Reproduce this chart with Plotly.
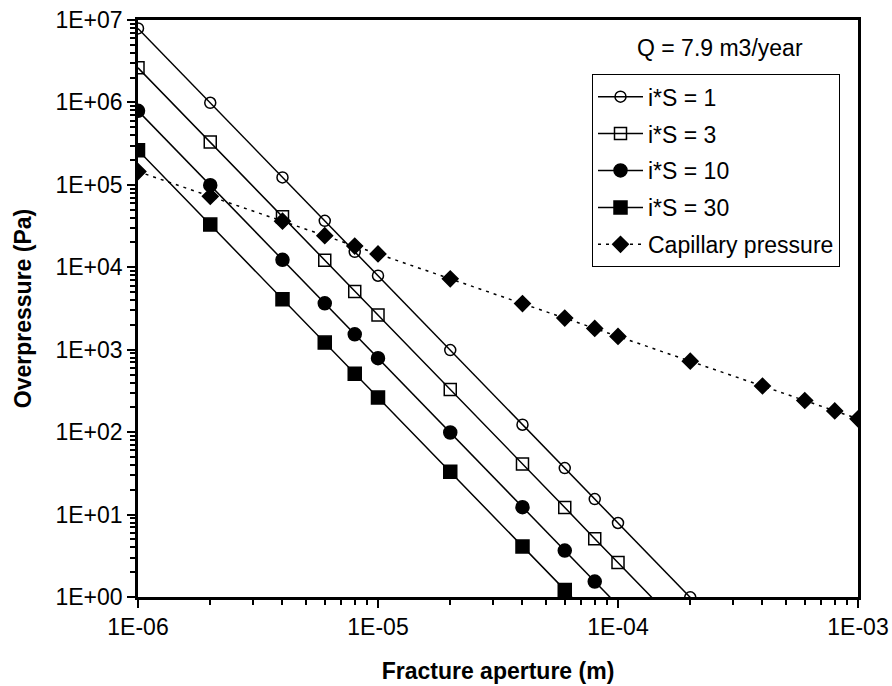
import plotly.graph_objects as go

# Fracture aperture (m)
aperture = [1e-6, 2e-6, 4e-6, 6e-6, 8e-6, 1e-5, 2e-5, 4e-5, 6e-5, 8e-5, 1e-4,
            2e-4, 4e-4, 6e-4, 8e-4, 1e-3]

# Overpressure (Pa) for each i*S value
p_is1 = [7.9e6, 9.9e5, 1.23e5, 3.66e4, 1.54e4, 7.9e3, 9.9e2, 1.23e2, 36.6, 15.4, 7.9,
         0.99, 0.123, 0.0366, 0.0154, 0.0079]
p_is3 = [2.63e6, 3.3e5, 4.1e4, 1.22e4, 5.1e3, 2.63e3, 3.3e2, 41, 12.2, 5.1, 2.63,
         0.33, 0.041, 0.0122, 0.0051, 0.00263]
p_is10 = [7.9e5, 9.9e4, 1.23e4, 3.66e3, 1.54e3, 7.9e2, 99, 12.3, 3.66, 1.54, 0.79,
          0.099, 0.0123, 0.00366, 0.00154, 0.00079]
p_is30 = [2.63e5, 3.3e4, 4.1e3, 1.22e3, 5.1e2, 2.63e2, 33, 4.1, 1.22, 0.51, 0.263,
          0.033, 0.0041, 0.00122, 0.00051, 0.000263]
p_cap = [1.45e5, 7.25e4, 3.63e4, 2.42e4, 1.81e4, 1.45e4, 7.25e3, 3.63e3, 2.42e3,
         1.81e3, 1.45e3, 725, 363, 242, 181, 145]

x_tickvals = [1e-6, 1e-5, 1e-4, 1e-3]
x_ticktext = ["1E-06", "1E-05", "1E-04", "1E-03"]
y_tickvals = [1, 10, 100, 1e3, 1e4, 1e5, 1e6, 1e7]
y_ticktext = ["1E+00", "1E+01", "1E+02", "1E+03", "1E+04", "1E+05", "1E+06", "1E+07"]

FONT = "Liberation Sans, Arial, sans-serif"
FS = 23

series = [
    ("i*S = 1", p_is1, "circle-open", 11, "solid"),
    ("i*S = 3", p_is3, "square-open", 12, "solid"),
    ("i*S = 10", p_is10, "circle", 13, "solid"),
    ("i*S = 30", p_is30, "square", 13, "solid"),
    ("Capillary pressure", p_cap, "diamond", 12, "3px,5px"),
]

fig = go.Figure()
for i, (name, vals, sym, size, dash) in enumerate(series):
    fig.add_trace(go.Scatter(
        x=aperture, y=vals, name=name, mode="lines+markers",
        line=dict(color="black", width=1.5, dash=dash),
        marker=dict(symbol=sym, size=size, color="black",
                    line=dict(color="black", width=1.5)),
        legendgroup=f"g{i}", cliponaxis=True,
    ))

axis_common = dict(
    type="log", showgrid=False, zeroline=False, automargin=False,
    showline=True, linecolor="black", linewidth=2.5, mirror=True,
    ticks="outside", ticklen=8, tickwidth=2, tickcolor="black",
    tickfont=dict(family=FONT, size=FS, color="black"),
)

fig.update_xaxes(
    **axis_common, range=[-6, -3],
    tickvals=x_tickvals, ticktext=x_ticktext,
    minor=dict(ticks="outside", ticklen=5, tickwidth=1.5, tickcolor="black", dtick="D1"),
    title=dict(text="<b>Fracture aperture (m)</b>", font=dict(family=FONT, size=FS, color="black"),
               standoff=24),
)
fig.update_yaxes(
    **axis_common, range=[0, 7],
    tickvals=y_tickvals, ticktext=y_ticktext,
    minor=dict(ticks="outside", ticklen=5, tickwidth=1.5, tickcolor="black", dtick="D1"),
    title=dict(text="<b>Overpressure (Pa)</b>", font=dict(family=FONT, size=FS, color="black"),
               standoff=18),
)

fig.add_annotation(
    text="Q = 7.9 m3/year", xref="paper", yref="paper",
    x=0.808, y=0.951, xanchor="center", yanchor="middle", showarrow=False,
    font=dict(family=FONT, size=FS, color="black"),
)

fig.update_layout(
    width=892, height=686,
    margin=dict(l=138, r=34, t=20, b=89),
    paper_bgcolor="white", plot_bgcolor="white",
    font=dict(family=FONT, size=FS, color="black"),
    legend=dict(
        x=0.975, y=0.906, xanchor="right", yanchor="top",
        bgcolor="white", bordercolor="black", borderwidth=1,
        font=dict(family=FONT, size=FS, color="black"),
        tracegroupgap=4, traceorder="grouped", itemwidth=45,
    ),
)

fig.write_html("out.html")
